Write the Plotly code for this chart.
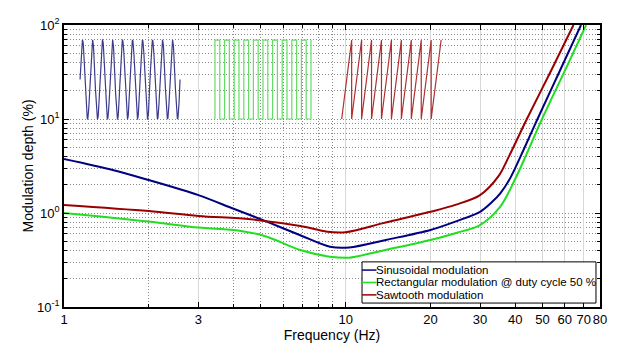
import numpy as np
import plotly.graph_objects as go

# Modulation depth curves (frequency in Hz, depth in %)
sin_freq = [1, 1.5, 2, 3, 4, 5.25, 6.9, 8.8, 10.3, 14, 20, 24.5, 30, 33, 35.4, 38.4, 42.8, 48, 58, 68.5]
sin_depth = [3.75, 2.85, 2.24, 1.55, 1.11, 0.81, 0.58, 0.438, 0.43, 0.52, 0.66, 0.81, 1.03, 1.3, 1.62, 2.35, 4.68, 10, 34, 100]

rect_freq = [1, 2, 3, 4.2, 5.25, 6.9, 8.8, 10.3, 13.6, 20, 24.5, 30, 35.4, 40, 44, 49.5, 62, 71.4]
rect_depth = [1.0, 0.81, 0.70, 0.648, 0.56, 0.404, 0.343, 0.335, 0.40, 0.516, 0.61, 0.745, 1.17, 2.3, 4.3, 9.6, 40, 100]

saw_freq = [1, 2, 3, 4.6, 6.9, 8.6, 10, 13.6, 20, 24.5, 30, 35, 38, 44, 54, 64.4]
saw_depth = [1.22, 1.05, 0.93, 0.857, 0.727, 0.633, 0.625, 0.78, 1.03, 1.22, 1.55, 2.5, 4.0, 10, 34, 100]

x_ticks = [1, 3, 10, 20, 30, 40, 50, 60, 70, 80]
x_minor = [2, 4, 5, 6, 7, 8, 9]
y_ticks = [0.1, 1, 10, 100]
y_tick_text = ["10<sup>-1</sup>", "10<sup>0</sup>", "10<sup>1</sup>", "10<sup>2</sup>"]
y_minor = [m * d for d in (0.1, 1, 10) for m in range(2, 10)]

legend_names = ["Sinusoidal modulation",
                "Rectangular modulation @ duty cycle 50 %",
                "Sawtooth modulation"]

# Waveform glyphs, placed in decade units (log10 f, log10 depth)
n_cycles = 10
glyph_low, glyph_high = 1.0, 1.84
sine_span = (0.057, 0.412)
rect_span = (0.536, 0.877)
saw_span = (0.986, 1.339)

BLUE = "#000080"
GREEN = "#22dd22"
RED = "#990000"
DOT = "1px,2px"

fig = go.Figure()

# sine glyph
t = np.linspace(0, 1, 600)
sx = sine_span[0] + t * (sine_span[1] - sine_span[0])
mid = (glyph_low + glyph_high) / 2
amp = (glyph_high - glyph_low) / 2
sy = mid + amp * np.sin(2 * np.pi * n_cycles * t)
fig.add_trace(go.Scatter(x=sx, y=sy, mode="lines", xaxis="x2", yaxis="y2",
                         line=dict(color="#3c3c8c", width=1.2), showlegend=False, hoverinfo="skip"))

# rectangular glyph (50 % duty cycle)
period = (rect_span[1] - rect_span[0]) / n_cycles
rx, ry = [rect_span[0]], [glyph_low]
for k in range(n_cycles):
    x0 = rect_span[0] + k * period
    rx += [x0, x0 + period / 2, x0 + period / 2, x0 + period]
    ry += [glyph_high, glyph_high, glyph_low, glyph_low]
    rx.append(x0 + period)
    ry.append(glyph_high if k < n_cycles - 1 else glyph_low)
rx.append(rect_span[1]); ry.append(glyph_high)
fig.add_trace(go.Scatter(x=rx, y=ry, mode="lines", xaxis="x2", yaxis="y2",
                         line=dict(color="#66dd66", width=1.2), showlegend=False, hoverinfo="skip"))

# sawtooth glyph
period = (saw_span[1] - saw_span[0]) / n_cycles
wx, wy = [], []
for k in range(n_cycles):
    x0 = saw_span[0] + k * period
    wx += [x0, x0 + period]
    wy += [glyph_low, glyph_high]
fig.add_trace(go.Scatter(x=wx, y=wy, mode="lines", xaxis="x2", yaxis="y2",
                         line=dict(color="#b03030", width=1.2), showlegend=False, hoverinfo="skip"))

# main curves
for fx, fy, col in [(sin_freq, sin_depth, BLUE), (rect_freq, rect_depth, GREEN), (saw_freq, saw_depth, RED)]:
    fig.add_trace(go.Scatter(x=fx, y=fy, mode="lines", line=dict(color=col, width=2, shape="spline", smoothing=0.9),
                             showlegend=False, hoverinfo="skip"))

font = "Liberation Sans, Arial, sans-serif"

fig.update_layout(
    width=639, height=346,
    margin=dict(l=64, r=39, t=25, b=39),
    paper_bgcolor="white", plot_bgcolor="white",
    font=dict(family=font, size=12, color="black"),
    showlegend=False,
    xaxis=dict(
        type="log", range=[0, np.log10(80)], automargin=False,
        tickvals=x_ticks, ticktext=[str(v) for v in x_ticks], tickangle=0,
        ticks="inside", ticklen=5, tickwidth=1, tickcolor="black",
        showline=True, linecolor="black", linewidth=1.5, mirror="allticks",
        showgrid=True, gridcolor="#d8d8d8", gridwidth=1,
        minor=dict(tickvals=x_minor, ticks="inside", ticklen=3, tickcolor="black",
                   showgrid=True, gridcolor="#8a8a8a", griddash=DOT, gridwidth=1),
        tickfont=dict(size=13),
        title=dict(text="Frequency (Hz)", font=dict(size=14), standoff=4),
        zeroline=False,
    ),
    yaxis=dict(
        type="log", range=[-1, 2], automargin=False,
        tickvals=y_ticks, ticktext=y_tick_text,
        ticks="inside", ticklen=5, tickwidth=1, tickcolor="black",
        showline=True, linecolor="black", linewidth=1.5, mirror="allticks",
        showgrid=True, gridcolor="#8a8a8a", griddash=DOT, gridwidth=1,
        minor=dict(tickvals=y_minor, ticks="inside", ticklen=3, tickcolor="black",
                   showgrid=True, gridcolor="#8a8a8a", griddash=DOT, gridwidth=1),
        tickfont=dict(size=13),
        title=dict(text="Modulation depth (%)", font=dict(size=14), standoff=0),
        zeroline=False,
    ),
    xaxis2=dict(overlaying="x", range=[0, np.log10(80)], visible=False, fixedrange=True),
    yaxis2=dict(overlaying="y", range=[-1, 2], visible=False, fixedrange=True),
)

# legend box drawn in the plot area
lx0, lx1, ly0, ly1 = 0.556, 0.9925, 0.014, 0.160
fig.add_shape(type="rect", xref="paper", yref="paper", x0=lx0, x1=lx1, y0=ly0, y1=ly1,
              line=dict(color="black", width=1), fillcolor="white", layer="above")
row_y = [0.131, 0.087, 0.043]
for name, col, yy in zip(legend_names, [BLUE, GREEN, RED], row_y):
    fig.add_shape(type="line", xref="paper", yref="paper", x0=lx0, x1=lx0 + 0.027, y0=yy, y1=yy,
                  line=dict(color=col, width=1.5), layer="above")
    fig.add_annotation(xref="paper", yref="paper", x=lx0 + 0.027, y=yy, text=name, showarrow=False,
                       xanchor="left", yanchor="middle", xshift=-2, font=dict(size=11.5, family=font))

fig.write_html("out.html")
